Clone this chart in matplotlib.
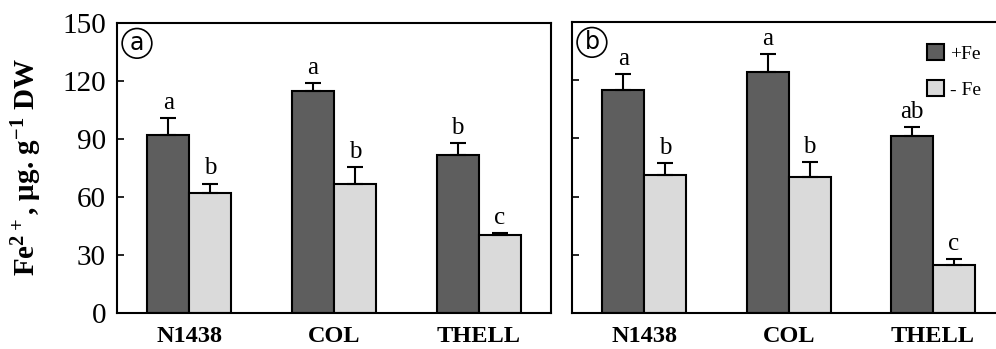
import numpy as np
import matplotlib
import matplotlib.pyplot as plt

matplotlib.use('Agg')

plt.rcParams['font.family'] = ['Liberation Serif', 'DejaVu Serif']
plt.rcParams['mathtext.fontset'] = 'custom'
plt.rcParams['mathtext.rm'] = 'Liberation Serif:bold'
plt.rcParams['mathtext.bf'] = 'Liberation Serif:bold'
plt.rcParams['mathtext.default'] = 'bf'

lines = ['N1438', 'COL', 'THELL']

# panel a
a_plus = [92, 115, 81.5]
a_plus_err = [9, 4, 6.5]
a_minus = [62, 67, 40.3]
a_minus_err = [5, 8.5, 1.2]
a_plus_letters = ['a', 'a', 'b']
a_minus_letters = ['b', 'b', 'c']

# panel b
b_plus = [115, 124, 91]
b_plus_err = [8, 9.5, 5]
b_minus = [71.4, 70.3, 25]
b_minus_err = [6, 7.7, 3]
b_plus_letters = ['a', 'a', 'ab']
b_minus_letters = ['b', 'b', 'c']

yticks = [0, 30, 60, 90, 120, 150]

DARK = '#5e5e5e'
LIGHT = '#dadada'
W = 0.29

fig = plt.figure(figsize=(9.96, 3.49), dpi=100)
ax_a = fig.add_axes([0.1175, 0.103, 0.4357, 0.831])
ax_b = fig.add_axes([0.5743, 0.103, 0.435, 0.834])


def draw(ax, plus, plus_err, minus, minus_err, pl, ml, tag, show_labels):
    x = np.arange(len(lines))
    ax.bar(x - W / 2, plus, W, color=DARK, edgecolor='black', lw=1.5, label='+Fe', zorder=2)
    ax.bar(x + W / 2, minus, W, color=LIGHT, edgecolor='black', lw=1.5, label='- Fe', zorder=2)
    ax.errorbar(x - W / 2, plus, yerr=[np.zeros(3), plus_err], fmt='none',
                ecolor='black', elinewidth=1.5, capsize=6, capthick=1.5, zorder=3)
    ax.errorbar(x + W / 2, minus, yerr=[np.zeros(3), minus_err], fmt='none',
                ecolor='black', elinewidth=1.5, capsize=6, capthick=1.5, zorder=3)
    for i in range(3):
        ax.annotate(pl[i], (x[i] - W / 2, plus[i] + plus_err[i]), xytext=(0, 3),
                    textcoords='offset points', ha='center', va='bottom', fontsize=18)
        ax.annotate(ml[i], (x[i] + W / 2, minus[i] + minus_err[i]), xytext=(0, 3),
                    textcoords='offset points', ha='center', va='bottom', fontsize=18)
    ax.set_xlim(-0.5, 2.5)
    ax.set_ylim(0, 150)
    ax.set_yticks(yticks)
    ax.set_xticks(x)
    ax.set_xticklabels(lines, fontsize=17.5, fontweight='bold')
    ax.tick_params(axis='x', length=0, pad=9)
    ax.tick_params(axis='y', direction='in', length=5, width=1.2, labelsize=21, pad=8)
    if not show_labels:
        ax.set_yticklabels([])
    for s in ax.spines.values():
        s.set_linewidth(1.5)
    ax.text(0.046, 0.93, tag, transform=ax.transAxes, fontsize=17, ha='center', va='center',
            family='DejaVu Sans',
            bbox=dict(boxstyle='circle,pad=0.12', fc='white', ec='black', lw=1.2))


draw(ax_a, a_plus, a_plus_err, a_minus, a_minus_err, a_plus_letters, a_minus_letters, 'a', True)
draw(ax_b, b_plus, b_plus_err, b_minus, b_minus_err, b_plus_letters, b_minus_letters, 'b', False)

ax_b.legend(loc='upper right', bbox_to_anchor=(0.985, 0.985), frameon=False, fontsize=14,
            handlelength=0.9, handleheight=0.9, handletextpad=0.3, labelspacing=0.9)

fig.text(0.027, 0.52, r'Fe$^{2+}$, μg. g$^{-1}$ DW', rotation=90, ha='center', va='center',
         fontsize=21, fontweight='bold')

plt.savefig('out.png', dpi=100)
plt.close()
